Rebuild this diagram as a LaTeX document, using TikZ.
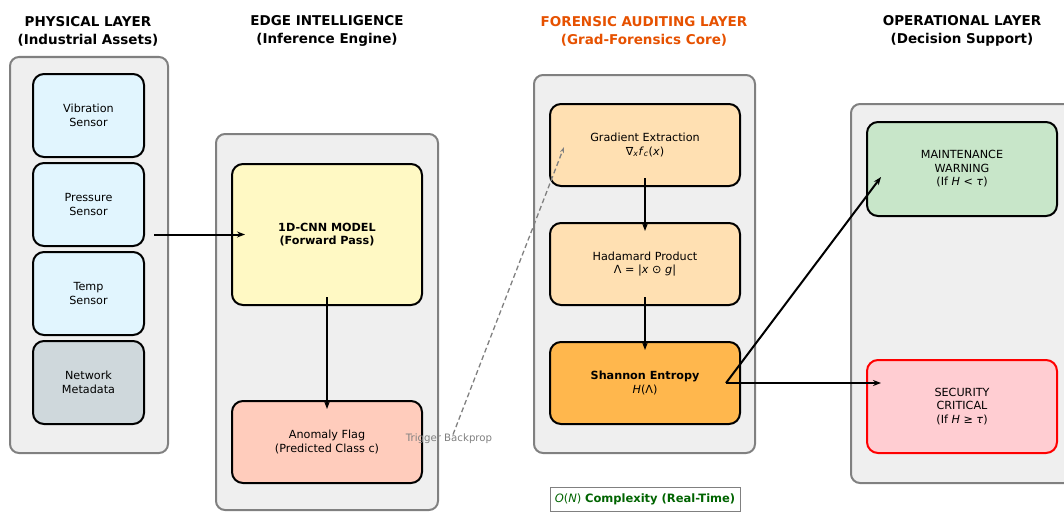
\documentclass[tikz,border=0pt]{standalone}
\usepackage{fontspec}
\setmainfont{DejaVu Sans}
\usepackage{xcolor}
\usetikzlibrary{arrows.meta}
\definecolor{panelgray}{HTML}{EFEFEF}
\definecolor{sensorblue}{HTML}{E1F5FE}
\definecolor{metagray}{HTML}{CFD8DC}
\definecolor{cnnyellow}{HTML}{FFF9C4}
\definecolor{flagsalmon}{HTML}{FFCCBC}
\definecolor{gradorange}{HTML}{FFE0B2}
\definecolor{entropyorange}{HTML}{FFB74D}
\definecolor{warngreen}{HTML}{C8E6C9}
\definecolor{critpink}{HTML}{FFCDD2}
\definecolor{headorange}{HTML}{E65100}
\definecolor{okgreen}{HTML}{006400}

\begin{document}
\begin{tikzpicture}
    	[x=1pt, y=-1pt,
    	 panel/.style={draw=gray, fill=panelgray, line width=2pt, rounded corners=9pt},
    	 box/.style={draw=black, line width=2pt, rounded corners=11pt, align=center,
    	   font=\fontsize{11.2}{13.5}\selectfont, minimum width=190pt, minimum height=82pt},
    	 sensor/.style={box, fill=sensorblue, minimum width=111pt, minimum height=83pt},
    	 head/.style={align=center, font=\fontsize{13.5}{18}\selectfont\bfseries},
    	 arr/.style={-{Stealth[length=8pt,width=6pt]}, line width=2pt}]
    	\useasboundingbox (0,0) rectangle (1064,511);
    	\clip (0,0) rectangle (1064,511);

    	% layer panels
    	\node (physpanel) at (89,255) [panel, minimum width=158pt, minimum height=396pt] {};
    	\node (edgepanel) at (327,322) [panel, minimum width=222pt, minimum height=376pt] {};
    	\node (forpanel) at (644.5,264) [panel, minimum width=221pt, minimum height=378pt] {};
    	\node (oppanel) at (962,293.5) [panel, minimum width=222pt, minimum height=379pt] {};

    	% headers
    	\node (physhead) at (88,31) [head] {PHYSICAL LAYER\\(Industrial Assets)};
    	\node (edgehead) at (327,31) [head] {EDGE INTELLIGENCE\\(Inference Engine)};
    	\node (forhead) at (644,31) [head, text=headorange] {FORENSIC AUDITING LAYER\\(Grad-Forensics Core)};
    	\node (ophead) at (962,31) [head] {OPERATIONAL LAYER\\(Decision Support)};

    	\node (vib) at (88.5,115.5) [sensor] {Vibration\\Sensor};
    	\node (pres) at (88.5,204.5) [sensor] {Pressure\\Sensor};
    	\node (temp) at (88.5,293.5) [sensor] {Temp\\Sensor};
    	\node (netmeta) at (88.5,382.5) [sensor, fill=metagray] {Network\\Metadata};

    	\node (cnn) at (327,234.5) [box, fill=cnnyellow, minimum height=141pt]
    		{\bfseries 1D-CNN MODEL\\\bfseries (Forward Pass)};
    	\node (flag) at (327,442) [box, fill=flagsalmon] {Anomaly Flag\\(Predicted Class c)};

    	\node (grad) at (645,145) [box, fill=gradorange]
    		{Gradient Extraction\\∇\textsubscript{\textit{x}}\textit{f}\textsubscript{\textit{c}}(\textit{x})};
    	\node (hada) at (645,264) [box, fill=gradorange]
    		{Hadamard Product\\Λ = |\textit{x} ⊙ \textit{g}|};
    	\node (shan) at (645,383) [box, fill=entropyorange]
    		{\bfseries Shannon Entropy\\\textit{H}(Λ)};

    	\node (maint) at (962,169) [box, fill=warngreen, minimum height=94pt]
    		{MAINTENANCE\\WARNING\\(If \textit{H} < \textit{τ})};
    	\node (crit) at (962,406.5) [box, draw=red, fill=critpink, minimum height=93pt]
    		{SECURITY\\CRITICAL\\(If \textit{H} ≥ \textit{τ})};

    	\node (cplx) at (645,499) [draw=gray, fill=white, line width=0.6pt, minimum width=190pt,
    		minimum height=24pt, text=okgreen, font=\fontsize{11.5}{13}\selectfont]
    		{\textit{O}(\textit{N}) \bfseries Complexity (Real-Time)};

    	\node (trig) at (449,439) [text=gray, font=\fontsize{10.2}{12}\selectfont] {Trigger Backprop};

    	\draw[arr] ([xshift=9pt]pres.east |- cnn.west) -- ([xshift=14pt]cnn.west);
    	\draw[arr] ([yshift=9pt]cnn.south) -- ([yshift=-9pt]flag.north);
    	\draw[arr] ([yshift=9pt]grad.south) -- ([yshift=-9pt]hada.north);
    	\draw[arr] ([yshift=9pt]hada.south) -- ([yshift=-9pt]shan.north);
    	\draw[gray, dash pattern=on 5pt off 3pt, line width=1.3pt, -{Stealth[length=6pt,width=4pt]}]
    		([xshift=4pt,yshift=-4pt]trig.north) -- ([xshift=15pt,yshift=-2pt]grad.west);
    	\draw[arr] ([xshift=-15pt]shan.east) -- ([xshift=15pt,yshift=-8pt]maint.west);
    	\draw[arr] ([xshift=-15pt]shan.east) -- ([xshift=15pt]crit.west |- shan.east);
\end{tikzpicture}
\end{document}
